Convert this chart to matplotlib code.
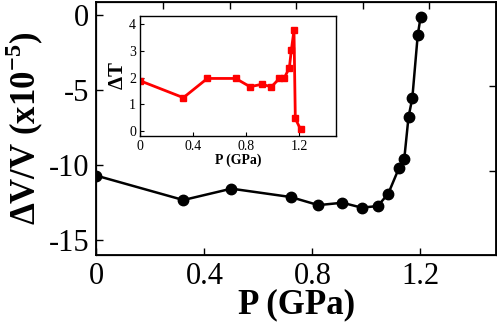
import matplotlib
matplotlib.use('Agg')
import matplotlib.pyplot as plt

plt.rcParams['font.family'] = ['Liberation Serif', 'DejaVu Serif']
plt.rcParams['mathtext.fontset'] = 'custom'
plt.rcParams['mathtext.rm'] = 'Liberation Serif'
plt.rcParams['mathtext.bf'] = 'Liberation Serif:bold'
plt.rcParams['axes.unicode_minus'] = False

# main curve: volume change vs pressure
p_main = [0.0, 0.322, 0.50, 0.72, 0.822, 0.911, 0.983, 1.042, 1.081, 1.12, 1.14, 1.156, 1.17, 1.19, 1.201]
dv_main = [-10.7, -12.33, -11.57, -12.13, -12.67, -12.51, -12.84, -12.73, -11.9, -10.22, -9.62, -6.78, -5.53, -1.33, -0.07]

# inset: delta T vs pressure
p_ins = [0.0, 0.325, 0.506, 0.72, 0.828, 0.916, 0.99, 1.05, 1.085, 1.125, 1.14, 1.16, 1.17, 1.21]
dt_ins = [1.88, 1.25, 1.97, 1.97, 1.66, 1.75, 1.66, 1.97, 1.97, 2.37, 3.03, 3.78, 0.47, 0.06]

main_xticks = [0, 0.4, 0.8, 1.2]
main_yticks = [0, -5, -10, -15]
ins_yticks = [0, 1, 2, 3, 4]

fig = plt.figure(figsize=(4.97, 3.32), dpi=100)
ax = fig.add_axes([0.194, 0.232, 0.804, 0.762])
ax.plot(p_main, dv_main, '-o', color='black', lw=1.8, ms=7.5)
ax.set_xlim(0, 1.48)
ax.set_ylim(-16, 0.9)
ax.set_xticks(main_xticks)
ax.set_xticklabels(['0', '0.4', '0.8', '1.2'])
ax.set_yticks(main_yticks)
ax.tick_params(direction='in', length=5, width=1, labelsize=22, pad=5)
for s in ax.spines.values():
    s.set_linewidth(1.3)
ax.set_xlabel('P (GPa)', fontsize=25, fontweight='bold', labelpad=-2)
ax.set_ylabel(r'$\mathbf{\Delta}$V/V (x10$^{\mathbf{-5}}$)', fontsize=25, fontweight='bold', labelpad=2)

# odd tick marks on top/right as in the original
tw = ax.twiny()
tw.set_xlim(0, 1)
tw.set_xticks([1/6, 2/6, 3/6, 4/6, 5/6])
tw.tick_params(direction='in', length=5, width=1, labeltop=False)
tr = ax.twinx()
tr.set_ylim(0, 1)
tr.set_yticks([1/3, 2/3])
tr.tick_params(direction='in', length=5, width=1, labelright=False)

ins = fig.add_axes([0.2823, 0.590, 0.3932, 0.3627])
ins.plot(p_ins, dt_ins, '-s', color='red', lw=2, ms=4.5)
ins.set_xlim(0, 1.475)
ins.set_ylim(-0.19, 4.32)
ins.set_xticks(main_xticks)
ins.set_xticklabels(['0', '0.4', '0.8', '1.2'])
ins.set_yticks(ins_yticks)
ins.tick_params(direction='in', length=3, width=0.8, labelsize=10, pad=3)
for s in ins.spines.values():
    s.set_linewidth(1)
ins.set_xlabel('P (GPa)', fontsize=10, fontweight='bold', labelpad=0)
ins.set_ylabel(r'$\mathbf{\Delta}$T', fontsize=15, fontweight='bold', labelpad=1)

fig.savefig('out.png', dpi=100)
